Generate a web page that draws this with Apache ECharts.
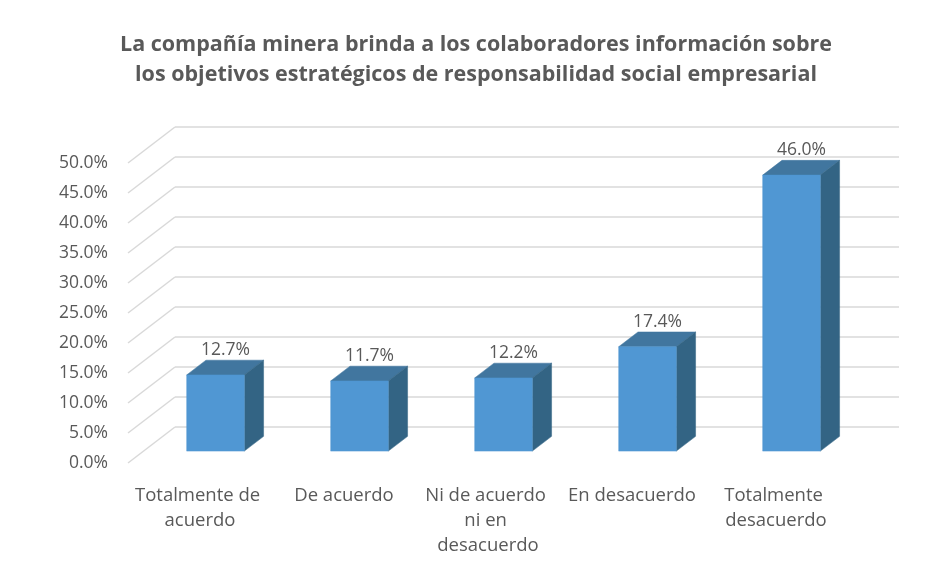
<!DOCTYPE html>
<html>
<head>
<meta charset="utf-8">
<script src="https://cdn.jsdelivr.net/npm/echarts@6/dist/echarts.min.js"></script>
<style>
html,body{margin:0;padding:0;background:#fff;}
#chart{width:952px;height:574px;}
</style>
</head>
<body>
<div id="chart"></div>
<script>
const titleText = 'La compañía minera brinda a los colaboradores información sobre\nlos objetivos estratégicos de responsabilidad social empresarial';
const categories = ['Totalmente de acuerdo', 'De acuerdo', 'Ni de acuerdo ni en desacuerdo', 'En desacuerdo', 'Totalmente desacuerdo'];
const values = [0.127, 0.117, 0.122, 0.174, 0.460];
const yTicks = [0, 0.05, 0.10, 0.15, 0.20, 0.25, 0.30, 0.35, 0.40, 0.45, 0.50];

const FONT = '"Open Sans"';
const TXT = '#595959';
const DEPTH_X = 47, DEPTH_Y = -36;      // full floor depth
const BAR_FRONT = 0.33, BAR_DEPTH = 0.41; // fractions of depth
const BAR_W = 0.40;                     // fraction of band

const chart = echarts.init(document.getElementById('chart'), null, {renderer: 'canvas'});

function pct(v){ return (v*100).toFixed(1) + '%'; }

const option = {
  backgroundColor: '#ffffff',
  animation: false,
  title: {
    text: titleText,
    left: 'center',
    top: 25,
    textStyle: {fontFamily: FONT, fontSize: 21.5, fontWeight: 'bold', color: TXT, lineHeight: 30}
  },
  grid: {left: 128, right: 104, top: 163, bottom: 111, containLabel: false},
  xAxis: {
    type: 'category',
    data: categories,
    axisLine: {show: false},
    axisTick: {show: false},
    splitLine: {show: false},
    axisLabel: {
      fontFamily: FONT, fontSize: 18.5, color: TXT, margin: 20,
      width: 136, overflow: 'break', lineHeight: 25, interval: 0
    }
  },
  yAxis: {
    type: 'value',
    min: 0, max: 0.5, interval: 0.05,
    axisLine: {show: false},
    axisTick: {show: false},
    splitLine: {show: false},
    axisLabel: {fontFamily: FONT, fontSize: 17.5, color: TXT, margin: 20, formatter: pct}
  },
  series: [
    {
      type: 'custom',
      silent: true,
      clip: false,
      z: 1,
      data: yTicks.map(v => [0, v]),
      renderItem: function (params, api) {
        const cs = params.coordSys;
        const y = api.coord([0, api.value(1)])[1];
        const x0 = cs.x;
        const x1 = cs.x + DEPTH_X;
        const x2 = cs.x + cs.width + DEPTH_X + 4;
        const style = {stroke: '#d9d9d9', lineWidth: 1.5, fill: null};
        return {
          type: 'group',
          children: [
            {type: 'line', shape: {x1: x0, y1: y, x2: x1, y2: y + DEPTH_Y}, style: style},
            {type: 'line', shape: {x1: x1, y1: y + DEPTH_Y, x2: x2, y2: y + DEPTH_Y}, style: style}
          ]
        };
      }
    },
    {
      type: 'custom',
      silent: true,
      clip: false,
      z: 2,
      data: values.map((v, i) => [i, v]),
      renderItem: function (params, api) {
        const i = api.value(0), v = api.value(1);
        const top = api.coord([i, v]);
        const base = api.coord([i, 0]);
        const band = api.size([1, 0])[0];
        const w = band * BAR_W;
        const fx = DEPTH_X * BAR_FRONT, fy = DEPTH_Y * BAR_FRONT;
        const dx = DEPTH_X * BAR_DEPTH, dy = DEPTH_Y * BAR_DEPTH;
        const L = top[0] - w / 2 + fx, R = top[0] + w / 2 + fx;
        const T = top[1] + fy, B = base[1] + fy;
        return {
          type: 'group',
          children: [
            {type: 'polygon', shape: {points: [[L, T], [R, T], [R + dx, T + dy], [L + dx, T + dy]]},
             style: {fill: '#41769f', stroke: '#41769f', lineWidth: 0.5}},
            {type: 'polygon', shape: {points: [[R, T], [R + dx, T + dy], [R + dx, B + dy], [R, B]]},
             style: {fill: '#336484', stroke: '#336484', lineWidth: 0.5}},
            {type: 'rect', shape: {x: L, y: T, width: R - L, height: B - T},
             style: {fill: '#5097d3', stroke: '#5097d3', lineWidth: 0.5}},
            {type: 'text', x: top[0] + fx + 10, y: T - 25,
             style: {text: pct(v), fill: TXT, font: '17.5px ' + FONT, align: 'center', verticalAlign: 'middle'}}
          ]
        };
      }
    }
  ]
};
chart.setOption(option);
</script>
</body>
</html>
